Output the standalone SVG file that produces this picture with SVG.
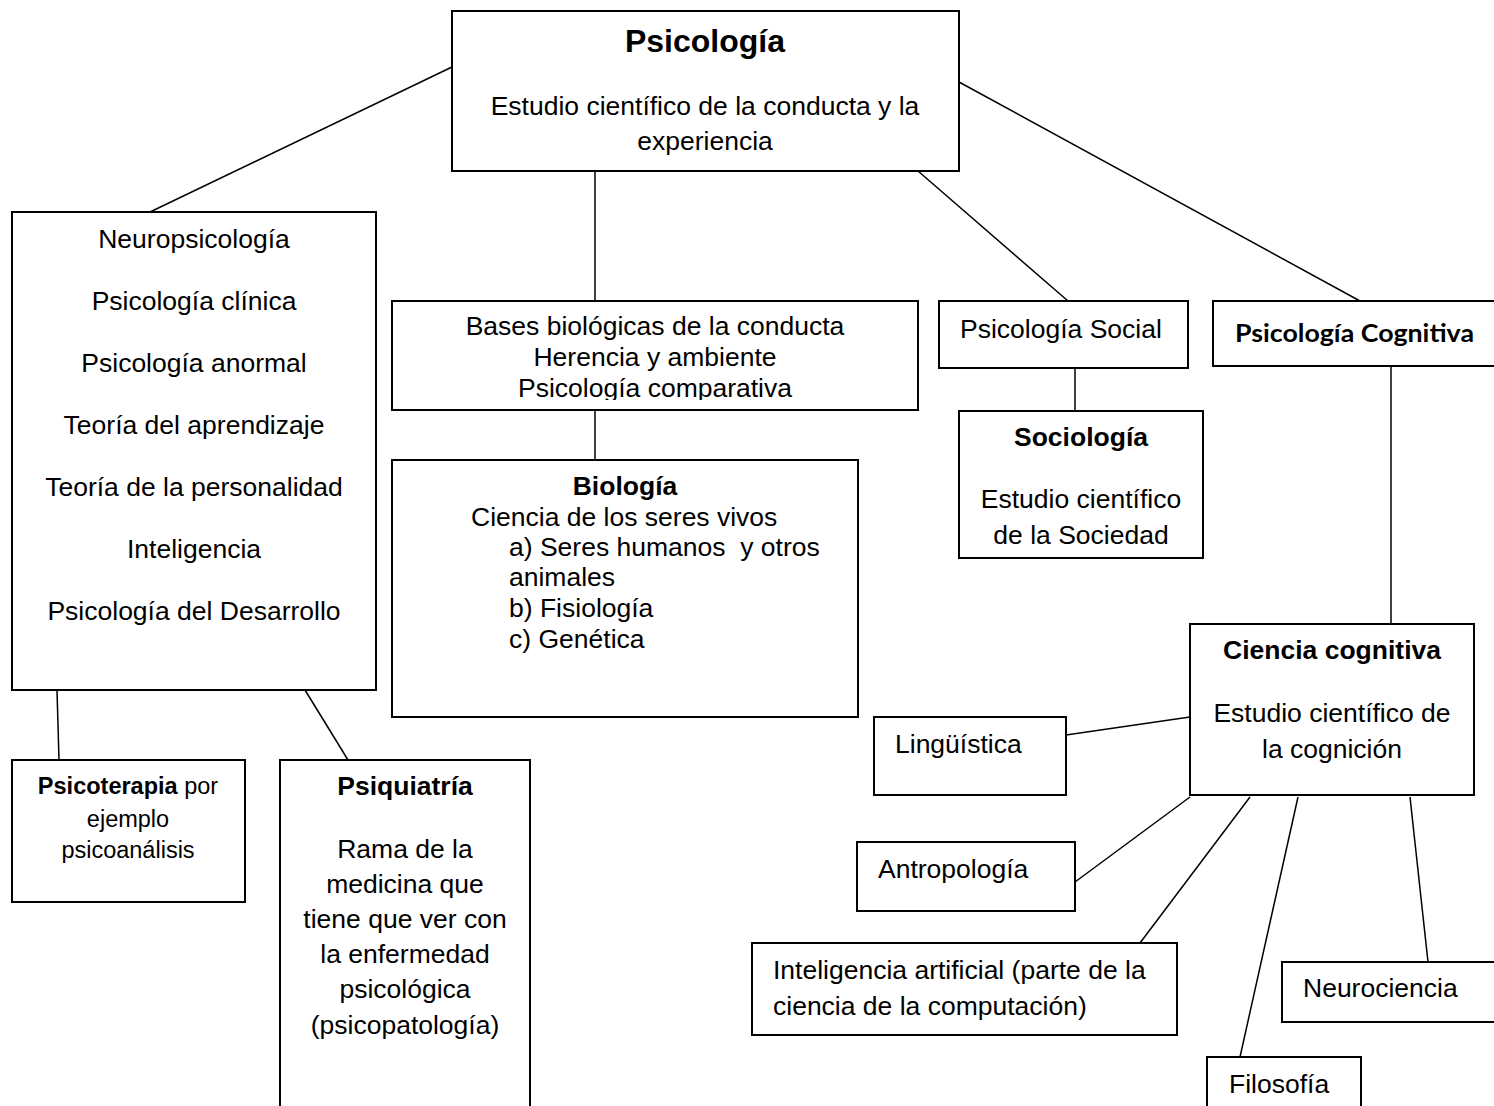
<svg xmlns="http://www.w3.org/2000/svg" width="1494" height="1106" viewBox="0 0 1494 1106">
<style>
.box{fill:#fff;stroke:#000;stroke-width:2}
.ln{stroke:#000;stroke-width:1.5;fill:none}
text{font-family:"Liberation Sans",Arial,sans-serif;font-size:26.5px;fill:#000}
.c{text-anchor:middle}
.b{font-weight:bold}
.n{font-family:"Liberation Sans Narrow","Liberation Sans",sans-serif;font-size:26.5px}
.cal{font-family:Lato,"Open Sans",sans-serif;font-weight:bold;font-size:25px}
.sm{font-size:23.5px}
</style>
<defs>
<clipPath id="clipBases"><rect x="392" y="301" width="526" height="99"/></clipPath>
</defs>
<rect width="1494" height="1106" fill="#fff"/>
<g id="connectors">
<line class="ln" x1="452" y1="67" x2="150" y2="212"/>
<line class="ln" x1="959" y1="82" x2="1360" y2="301"/>
<line class="ln" x1="595" y1="171" x2="595" y2="301"/>
<line class="ln" x1="918" y1="171" x2="1068" y2="301"/>
<line class="ln" x1="595" y1="410" x2="595" y2="460"/>
<line class="ln" x1="1075" y1="368" x2="1075" y2="411"/>
<line class="ln" x1="1391" y1="366" x2="1391" y2="624"/>
<line class="ln" x1="1066" y1="735" x2="1190" y2="717"/>
<line class="ln" x1="1075" y1="882" x2="1190" y2="797"/>
<line class="ln" x1="1140" y1="943" x2="1250" y2="797"/>
<line class="ln" x1="1410" y1="797" x2="1428" y2="962"/>
<line class="ln" x1="1298" y1="797" x2="1240" y2="1057"/>
<line class="ln" x1="57" y1="690" x2="59" y2="760"/>
<line class="ln" x1="305" y1="690" x2="348" y2="760"/>
</g>
<g id="psicologia">
<rect class="box" x="452" y="11" width="507" height="160"/>
<text class="c b" x="705" y="52" style="font-size:32px">Psicología</text>
<text class="c" x="705" y="115">Estudio científico de la conducta y la</text>
<text class="c" x="705" y="150">experiencia</text>
</g>
<g id="ramas">
<rect class="box" x="12" y="212" width="364" height="478"/>
<text class="c" x="194" y="248">Neuropsicología</text>
<text class="c" x="194" y="310">Psicología clínica</text>
<text class="c" x="194" y="372">Psicología anormal</text>
<text class="c" x="194" y="434">Teoría del aprendizaje</text>
<text class="c" x="194" y="496">Teoría de la personalidad</text>
<text class="c" x="194" y="558">Inteligencia</text>
<text class="c" x="194" y="620">Psicología del Desarrollo</text>
</g>
<g id="bases">
<rect class="box" x="392" y="301" width="526" height="109"/>
<g clip-path="url(#clipBases)">
<text class="c" x="655" y="335">Bases biológicas de la conducta</text>
<text class="c" x="655" y="366">Herencia y ambiente</text>
<text class="c" x="655" y="397">Psicología comparativa</text>
</g>
</g>
<g id="biologia">
<rect class="box" x="392" y="460" width="466" height="257"/>
<text class="c b" x="625" y="495">Biología</text>
<text x="471" y="526">Ciencia de los seres vivos</text>
<text x="509" y="556" xml:space="preserve">a) Seres humanos  y otros</text>
<text x="509" y="586">animales</text>
<text x="509" y="617">b) Fisiología</text>
<text x="509" y="648">c) Genética</text>
</g>
<g id="psicologia-social">
<rect class="box" x="939" y="301" width="249" height="67"/>
<text x="960" y="338">Psicología Social</text>
</g>
<g id="sociologia">
<rect class="box" x="959" y="411" width="244" height="147"/>
<text class="c b" x="1081" y="446">Sociología</text>
<text class="c" x="1081" y="508">Estudio científico</text>
<text class="c" x="1081" y="544">de la Sociedad</text>
</g>
<g id="psicologia-cognitiva">
<rect class="box" x="1213" y="301" width="290" height="65"/>
<text class="cal" x="1235" y="342" textLength="239" lengthAdjust="spacingAndGlyphs">Psicología Cognitiva</text>
</g>
<g id="ciencia-cognitiva">
<rect class="box" x="1190" y="624" width="284" height="171"/>
<text class="c b" x="1332" y="659">Ciencia cognitiva</text>
<text class="c" x="1332" y="722">Estudio científico de</text>
<text class="c" x="1332" y="758">la cognición</text>
</g>
<g id="linguistica">
<rect class="box" x="874" y="717" width="192" height="78"/>
<text class="n" x="895" y="753">Lingüística</text>
</g>
<g id="antropologia">
<rect class="box" x="857" y="842" width="218" height="69"/>
<text class="n" x="878" y="878">Antropología</text>
</g>
<g id="inteligencia-artificial">
<rect class="box" x="752" y="943" width="425" height="92"/>
<text class="n" x="773" y="979">Inteligencia artificial (parte de la</text>
<text class="n" x="773" y="1015">ciencia de la computación)</text>
</g>
<g id="neurociencia">
<rect class="box" x="1282" y="962" width="221" height="60"/>
<text class="n" x="1303" y="997">Neurociencia</text>
</g>
<g id="filosofia">
<rect class="box" x="1207" y="1057" width="154" height="60"/>
<text class="n" x="1229" y="1093">Filosofía</text>
</g>
<g id="psicoterapia">
<rect class="box" x="12" y="760" width="233" height="142"/>
<text class="c sm" x="128" y="794"><tspan font-weight="bold">Psicoterapia</tspan> por</text>
<text class="c sm" x="128" y="827">ejemplo</text>
<text class="c sm" x="128" y="858">psicoanálisis</text>
</g>
<g id="psiquiatria">
<rect class="box" x="280" y="760" width="250" height="360"/>
<text class="c b" x="405" y="795">Psiquiatría</text>
<text class="c" x="405" y="858">Rama de la</text>
<text class="c" x="405" y="893">medicina que</text>
<text class="c" x="405" y="928">tiene que ver con</text>
<text class="c" x="405" y="963">la enfermedad</text>
<text class="c" x="405" y="998">psicológica</text>
<text class="c" x="405" y="1034">(psicopatología)</text>
</g>
</svg>
